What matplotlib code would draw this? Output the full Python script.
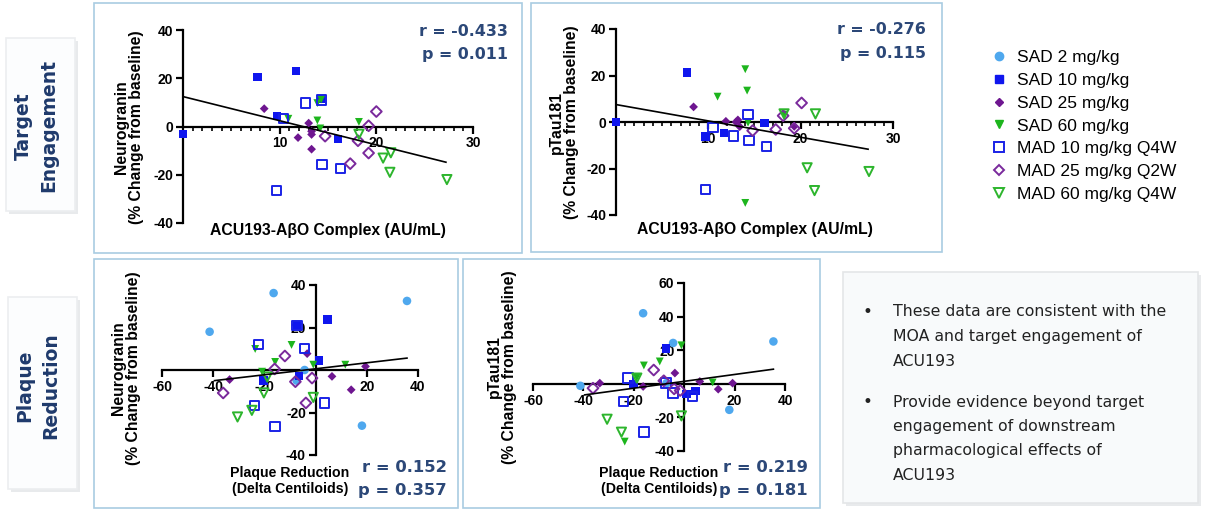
import matplotlib.pyplot as plt
from matplotlib.patches import Rectangle
from matplotlib.lines import Line2D

W, H = 1210, 509

GROUPS = ["SAD 2 mg/kg", "SAD 10 mg/kg", "SAD 25 mg/kg", "SAD 60 mg/kg",
          "MAD 10 mg/kg Q4W", "MAD 25 mg/kg Q2W", "MAD 60 mg/kg Q4W"]
COLORS = ["#4FA8EE", "#0F16EE", "#6E1690", "#1DB51D",
          "#1A22E6", "#7A2A9C", "#2DB52D"]
MARKERS = ["o", "s", "D", "v", "s", "D", "v"]
FILLED = [True, True, True, True, False, False, False]
SIZES = [38, 36, 20, 32, 46, 30, 44]

# panel A: ACU193-AbO complex vs neurogranin
A_X = [[], [0, 7.7, 11.7, 9.7, 14.3, 16.0], [8.4, 11.9, 13.0, 13.3, 13.3, 13.3],
       [10.9, 13.9, 14.3, 13.9, 14.2, 18.2], [12.7, 10.4, 14.4, 16.3, 9.7, 14.3],
       [14.7, 17.3, 18.1, 19.2, 19.2, 20.0], [18.2, 20.7, 21.5, 21.4, 27.3]]
A_Y = [[], [-3.2, 20.4, 23.0, 4.3, 11.3, -5.1], [7.4, -4.6, 1.4, -3.3, -9.4, -2.0],
       [3.2, 9.7, 11.2, 2.5, -0.8, 1.9], [9.7, 3.2, -15.7, -17.4, -26.5, 11.0],
       [-4.0, -15.4, -5.9, 0.3, -11.0, 6.2], [-3.2, -13.1, -10.9, -19.0, -22.0]]
A_FIT_X = [0, 27.2]
A_FIT_Y = [12.4, -14.8]

# panel B: ACU193-AbO complex vs pTau181
B_X = [[], [0, 7.7, 9.7, 11.7, 16.1], [8.4, 11.9, 13.2, 13.4, 13.0, 19.3],
       [11.0, 14.0, 14.2, 14.0, 18.2, 14.3], [10.5, 12.7, 14.3, 14.4, 16.3, 9.7],
       [14.8, 17.3, 19.3, 18.1, 20.1], [18.2, 20.7, 21.6, 21.5, 27.4]]
B_Y = [[], [0, 21.3, -6.3, -4.6, -0.4], [6.5, 0.3, 0.9, -2.0, 0.0, -1.9],
       [10.9, 22.7, 13.5, -34.8, 3.2, -0.3], [-2.3, -6.0, 3.2, -7.9, -10.6, -29.0],
       [-3.7, -3.2, -2.7, 2.7, 8.2], [3.5, -19.7, 3.5, -29.5, -21.3]]
B_FIT_X = [0, 27.3]
B_FIT_Y = [7.5, -11.7]

# panel C: plaque reduction vs neurogranin
C_X = [[-16.4, -41.4, 35.7, 18.1, -4.3, -7.4], [-7.2, 4.7, 1.4, -6.6, -20.3],
       [-33.6, -3.3, 6.4, 13.9, 19.5], [-23.6, -15.8, -9.4, -20.9, -0.9, 11.6],
       [-22.3, -4.3, -23.8, 3.4, -15.9, -7.2], [-36.1, -16.0, -12.0, -7.9, -1.4, -3.8],
       [-30.5, -24.9, -20.2, -18.9, -0.9]]
C_Y = [[36.2, 18.0, 32.5, -26.2, 0.0, -5.0], [20.9, 23.7, 4.5, -2.7, -4.9],
       [-4.5, 7.7, -3.0, -9.3, 1.7], [9.9, 3.8, 11.8, -0.8, 2.5, 2.5],
       [11.9, 10.2, -16.6, -15.5, -26.5, 20.9], [-10.8, 0.5, 6.6, -5.5, -3.8, -15.5],
       [-22.1, -19.0, -10.8, -3.3, -12.9]]
C_FIT_X = [-39.5, 35.7]
C_FIT_Y = [-5.0, 5.6]

# panel D: plaque reduction vs pTau181
D_X = [[-16.3, -41.2, -4.4, 35.4, 17.9, -7.0], [-7.2, -20.1, 0.9, 4.5],
       [-33.5, -3.7, 6.2, 13.5, 19.2, -16.3], [-16.0, -9.7, -18.8, -1.1, 11.3, -23.6],
       [-22.3, -24.0, -16.0, -4.4, 3.3, -7.2], [-36.2, -12.1, -8.1, -4.0, -1.6],
       [-30.6, -24.9, -1.1, -18.8]]
D_Y = [[42.0, -1.2, 24.3, 25.2, -15.5, 0.4], [21.0, -0.2, -6.0, -4.4],
       [0.4, 6.4, 1.4, -3.2, 0.4, -1.6], [10.9, 13.3, 3.8, 22.9, 0.8, -34.4],
       [3.4, -10.5, -28.8, -5.6, -7.6, 0.4], [-2.6, 8.2, 1.8, -3.0, -4.0],
       [-21.1, -28.8, -19.1, 3.4]]
D_FIT_X = [-39.5, 35.4]
D_FIT_Y = [-6.6, 8.7]

NAVY = "#2C4878"
BOX_EDGE = "#A9CCE2"
AXFONT = "Liberation Sans"
WIDEFONT = "DejaVu Sans"

fig = plt.figure(figsize=(W / 100, H / 100), dpi=100)
fig.patch.set_facecolor("white")


def px_rect(x0, y0, x1, y1):
    return [x0 / W, 1 - y1 / H, (x1 - x0) / W, (y1 - y0) / H]


def ftext(x, y, s, **kw):
    return fig.text(x / W, 1 - y / H, s, **kw)


def frame(x0, y0, x1, y1, edge=BOX_EDGE, face="white", shadow=False):
    if shadow:
        fig.patches.append(Rectangle(((x0 + 3) / W, 1 - (y1 + 3) / H),
                                     (x1 - x0) / W, (y1 - y0) / H,
                                     transform=fig.transFigure,
                                     facecolor="#E8EAEC", edgecolor="none", zorder=-3))
    fig.patches.append(Rectangle((x0 / W, 1 - y1 / H), (x1 - x0) / W, (y1 - y0) / H,
                                 transform=fig.transFigure, facecolor=face,
                                 edgecolor=edge, linewidth=1.2, zorder=-2))


def scatter_panel(rect, xs, ys, fit_x, fit_y, xlim, ylim, xticks, yticks, minor=None,
                  yaxis_at_zero=False):
    ax = fig.add_axes(px_rect(*rect))
    ax.set_facecolor("none")
    for i in range(len(GROUPS)):
        if not xs[i]:
            continue
        if FILLED[i]:
            ax.scatter(xs[i], ys[i], s=SIZES[i], marker=MARKERS[i], c=COLORS[i],
                       edgecolors="none", zorder=3, clip_on=False)
        else:
            ax.scatter(xs[i], ys[i], s=SIZES[i], marker=MARKERS[i], facecolors="none",
                       edgecolors=COLORS[i], linewidths=1.4, zorder=3, clip_on=False)
    ax.plot(fit_x, fit_y, color="black", lw=1.2, zorder=4)
    ax.set_xlim(*xlim)
    ax.set_ylim(*ylim)
    for s in ["top", "right"]:
        ax.spines[s].set_visible(False)
    ax.spines["bottom"].set_position(("data", 0))
    if yaxis_at_zero:
        ax.spines["left"].set_position(("data", 0))
    for s in ["bottom", "left"]:
        ax.spines[s].set_linewidth(1.6)
        ax.spines[s].set_zorder(2)
    ax.set_xticks(xticks)
    ax.set_xticklabels([str(t) for t in xticks])
    ax.set_yticks(yticks)
    ax.set_yticklabels([str(t) for t in yticks])
    if minor is not None:
        ax.set_xticks(minor, minor=True)
    ax.tick_params(axis="both", which="major", length=5, width=1.6, labelsize=10,
                   pad=2)
    ax.tick_params(axis="x", which="minor", length=3, width=1.2)
    for lab in ax.get_xticklabels() + ax.get_yticklabels():
        lab.set_fontweight("bold")
        lab.set_fontfamily(AXFONT)
    return ax


# panel frames
frame(94, 3, 522, 253)
frame(531, 3, 942, 252)
frame(94, 259, 458, 508)
frame(463, 259, 820, 508)

# left section labels
frame(6, 38, 75, 211, edge="#ECEEF0", face="#FCFDFE", shadow=True)
frame(8, 297, 77, 489, edge="#ECEEF0", face="#FCFDFE", shadow=True)
ftext(36, 126, "Target\nEngagement", rotation=90, ha="center", va="center",
      fontsize=13.5, fontweight="bold", color="#1F3A6C", family=WIDEFONT,
      linespacing=1.45)
ftext(38, 386, "Plaque\nReduction", rotation=90, ha="center", va="center",
      fontsize=13.5, fontweight="bold", color="#1F3A6C", family=WIDEFONT,
      linespacing=1.45)

# text box
frame(843, 272, 1198, 503, edge="#E4E6E8", face="#F8FAFB", shadow=True)
BULLET_1 = ["These data are consistent with the", "MOA and target engagement of",
            "ACU193"]
BULLET_2 = ["Provide evidence beyond target", "engagement of downstream",
            "pharmacological effects of", "ACU193"]
for block, y0 in [(BULLET_1, 312), (BULLET_2, 402)]:
    ftext(867, y0, "\u2022", ha="center", va="center", fontsize=12, color="#222222")
    for k, line in enumerate(block):
        ftext(893, y0 + k * 24.5, line, ha="left", va="center", fontsize=11.3,
              color="#222222", family=WIDEFONT)

minor_ab = [v for v in range(1, 30) if v % 10 != 0]
scatter_panel((183, 30, 473, 223), A_X, A_Y, A_FIT_X, A_FIT_Y, (0, 30), (-40, 40),
              [10, 20, 30], [-40, -20, 0, 20, 40], minor=minor_ab)
scatter_panel((616, 29, 893, 215), B_X, B_Y, B_FIT_X, B_FIT_Y, (0, 30), (-40, 40),
              [10, 20, 30], [-40, -20, 0, 20, 40], minor=minor_ab)
scatter_panel((162, 285, 418, 455), C_X, C_Y, C_FIT_X, C_FIT_Y, (-60, 40), (-40, 40),
              [-60, -40, -20, 20, 40], [-40, -20, 20, 40], yaxis_at_zero=True)
scatter_panel((533, 283, 785, 451), D_X, D_Y, D_FIT_X, D_FIT_Y, (-60, 40), (-40, 60),
              [-60, -40, -20, 20, 40], [-40, -20, 20, 40, 60], yaxis_at_zero=True)

# axis labels
lab_kw = dict(fontsize=11.3, fontweight="bold", family=AXFONT, color="black")
ftext(129, 127, "Neurogranin\n(% Change from baseline)", rotation=90, ha="center",
      va="center", linespacing=1.05, **lab_kw)
ftext(564, 122, "pTau181\n(% Change from baseline)", rotation=90, ha="center",
      va="center", linespacing=1.05, **lab_kw)
ftext(126, 368, "Neurogranin\n(% Change from baseline)", rotation=90, ha="center",
      va="center", linespacing=1.05, **lab_kw)
ftext(502, 367, "pTau181\n(% Change from baseline)", rotation=90, ha="center",
      va="center", linespacing=1.05, **lab_kw)
ftext(328, 230, "ACU193-A\u03b2O Complex (AU/mL)", ha="center", va="center", **lab_kw)
ftext(755, 229, "ACU193-A\u03b2O Complex (AU/mL)", ha="center", va="center", **lab_kw)
pl_kw = dict(lab_kw, fontsize=10.2)
ftext(290, 481, "Plaque Reduction\n(Delta Centiloids)", ha="center", va="center",
      linespacing=1.2, **pl_kw)
ftext(659, 481, "Plaque Reduction\n(Delta Centiloids)", ha="center", va="center",
      linespacing=1.2, **pl_kw)

# correlation stats
st_kw = dict(fontweight="bold", family=WIDEFONT, color=NAVY, ha="right", va="center")
ftext(508, 31, "r = -0.433", fontsize=11.4, **st_kw)
ftext(508, 54, "p = 0.011", fontsize=11.4, **st_kw)
ftext(926, 30, "r = -0.276", fontsize=11.4, **st_kw)
ftext(926, 53, "p = 0.115", fontsize=11.4, **st_kw)
ftext(447, 467, "r = 0.152", fontsize=11.8, **st_kw)
ftext(447, 491, "p = 0.357", fontsize=11.8, **st_kw)
ftext(808, 467, "r = 0.219", fontsize=11.8, **st_kw)
ftext(808, 491, "p = 0.181", fontsize=11.8, **st_kw)

# legend
handles = []
for i, g in enumerate(GROUPS):
    if FILLED[i]:
        h = Line2D([], [], ls="none", marker=MARKERS[i], color=COLORS[i],
                   markersize=6 if MARKERS[i] != "D" else 4.5, label=g)
    else:
        h = Line2D([], [], ls="none", marker=MARKERS[i], markerfacecolor="none",
                   markeredgecolor=COLORS[i], markeredgewidth=1.4,
                   markersize=6.5 if MARKERS[i] != "D" else 5, label=g)
    handles.append(h)
fig.legend(handles=handles, loc="upper left", bbox_to_anchor=(990 / W, 1 - 50 / H),
           frameon=False, prop={"family": AXFONT, "size": 12.5}, labelspacing=0.44,
           handletextpad=0.55, handlelength=1.0, borderaxespad=0, borderpad=0)

fig.savefig("out.png", dpi=100, facecolor="white")
